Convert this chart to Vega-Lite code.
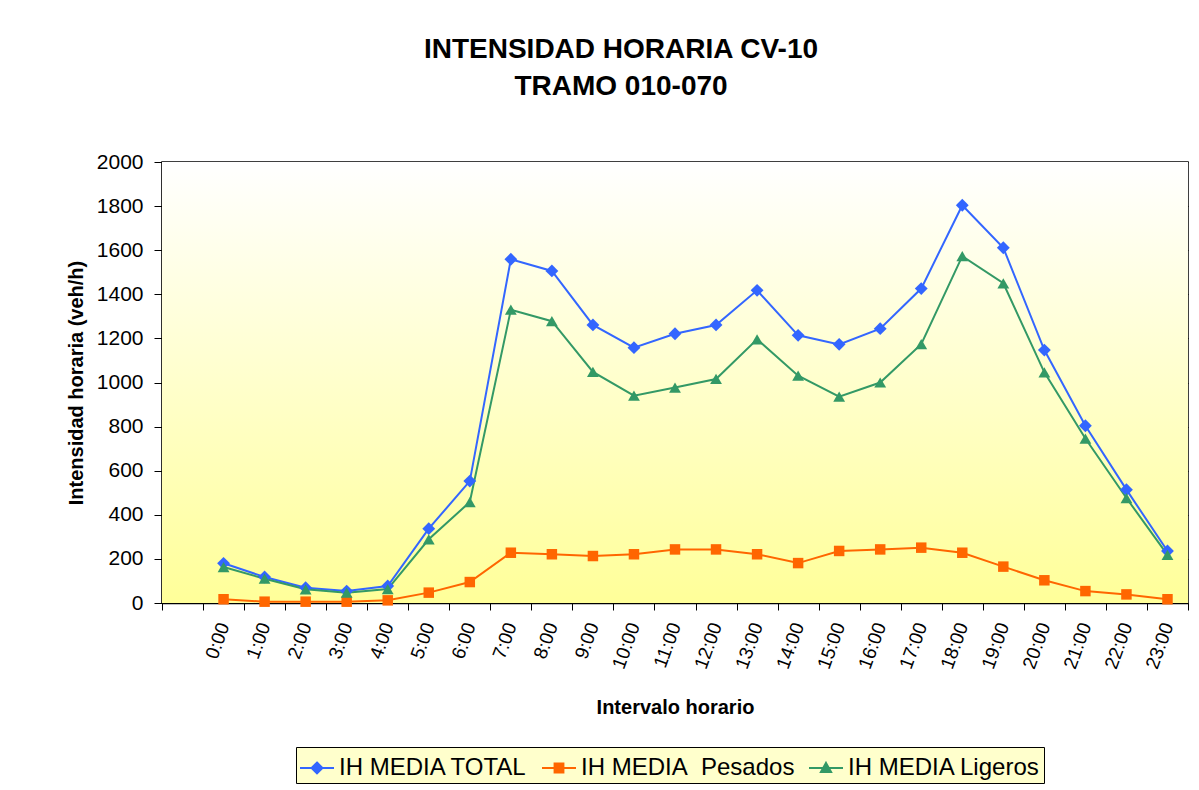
{
  "$schema": "https://vega.github.io/schema/vega-lite/v6.json",
  "autosize": {"type": "none"},
  "width": 1026,
  "height": 441,
  "padding": {"left": 162, "top": 162, "right": 11, "bottom": 187},
  "background": "#ffffff",
  "title": {
    "text": ["INTENSIDAD HORARIA CV-10", "TRAMO 010-070"],
    "font": "Liberation Sans",
    "fontSize": 28,
    "fontWeight": "bold",
    "color": "#000000",
    "anchor": "middle",
    "frame": "group",
    "dx": -54,
    "offset": 50,
    "lineHeight": 37
  },
  "config": {
    "view": {"stroke": "#000000", "strokeWidth": 1.5},
    "axis": {
      "labelFont": "Liberation Sans",
      "titleFont": "Liberation Sans",
      "labelColor": "#000000",
      "titleColor": "#000000",
      "domainColor": "#000000",
      "tickColor": "#000000",
      "gridColor": "#000000",
      "gridOpacity": 1,
      "gridWidth": 1,
      "domainWidth": 1.5
    },
    "legend": {"labelFont": "Liberation Sans"}
  },
  "data": {
    "values": [
      {"hora": "0:00", "serie": "IH MEDIA TOTAL", "valor": 180},
      {"hora": "1:00", "serie": "IH MEDIA TOTAL", "valor": 118},
      {"hora": "2:00", "serie": "IH MEDIA TOTAL", "valor": 69},
      {"hora": "3:00", "serie": "IH MEDIA TOTAL", "valor": 54},
      {"hora": "4:00", "serie": "IH MEDIA TOTAL", "valor": 77},
      {"hora": "5:00", "serie": "IH MEDIA TOTAL", "valor": 337},
      {"hora": "6:00", "serie": "IH MEDIA TOTAL", "valor": 553},
      {"hora": "7:00", "serie": "IH MEDIA TOTAL", "valor": 1559},
      {"hora": "8:00", "serie": "IH MEDIA TOTAL", "valor": 1506},
      {"hora": "9:00", "serie": "IH MEDIA TOTAL", "valor": 1261},
      {"hora": "10:00", "serie": "IH MEDIA TOTAL", "valor": 1158},
      {"hora": "11:00", "serie": "IH MEDIA TOTAL", "valor": 1221},
      {"hora": "12:00", "serie": "IH MEDIA TOTAL", "valor": 1261},
      {"hora": "13:00", "serie": "IH MEDIA TOTAL", "valor": 1418},
      {"hora": "14:00", "serie": "IH MEDIA TOTAL", "valor": 1214},
      {"hora": "15:00", "serie": "IH MEDIA TOTAL", "valor": 1173},
      {"hora": "16:00", "serie": "IH MEDIA TOTAL", "valor": 1244},
      {"hora": "17:00", "serie": "IH MEDIA TOTAL", "valor": 1426},
      {"hora": "18:00", "serie": "IH MEDIA TOTAL", "valor": 1804},
      {"hora": "19:00", "serie": "IH MEDIA TOTAL", "valor": 1611},
      {"hora": "20:00", "serie": "IH MEDIA TOTAL", "valor": 1147},
      {"hora": "21:00", "serie": "IH MEDIA TOTAL", "valor": 804},
      {"hora": "22:00", "serie": "IH MEDIA TOTAL", "valor": 514},
      {"hora": "23:00", "serie": "IH MEDIA TOTAL", "valor": 236},
      {"hora": "0:00", "serie": "IH MEDIA Pesados", "valor": 17},
      {"hora": "1:00", "serie": "IH MEDIA Pesados", "valor": 6},
      {"hora": "2:00", "serie": "IH MEDIA Pesados", "valor": 6},
      {"hora": "3:00", "serie": "IH MEDIA Pesados", "valor": 6},
      {"hora": "4:00", "serie": "IH MEDIA Pesados", "valor": 12},
      {"hora": "5:00", "serie": "IH MEDIA Pesados", "valor": 47},
      {"hora": "6:00", "serie": "IH MEDIA Pesados", "valor": 95},
      {"hora": "7:00", "serie": "IH MEDIA Pesados", "valor": 228},
      {"hora": "8:00", "serie": "IH MEDIA Pesados", "valor": 221},
      {"hora": "9:00", "serie": "IH MEDIA Pesados", "valor": 213},
      {"hora": "10:00", "serie": "IH MEDIA Pesados", "valor": 221},
      {"hora": "11:00", "serie": "IH MEDIA Pesados", "valor": 243},
      {"hora": "12:00", "serie": "IH MEDIA Pesados", "valor": 243},
      {"hora": "13:00", "serie": "IH MEDIA Pesados", "valor": 221},
      {"hora": "14:00", "serie": "IH MEDIA Pesados", "valor": 181},
      {"hora": "15:00", "serie": "IH MEDIA Pesados", "valor": 236},
      {"hora": "16:00", "serie": "IH MEDIA Pesados", "valor": 243},
      {"hora": "17:00", "serie": "IH MEDIA Pesados", "valor": 251},
      {"hora": "18:00", "serie": "IH MEDIA Pesados", "valor": 228},
      {"hora": "19:00", "serie": "IH MEDIA Pesados", "valor": 165},
      {"hora": "20:00", "serie": "IH MEDIA Pesados", "valor": 103},
      {"hora": "21:00", "serie": "IH MEDIA Pesados", "valor": 54},
      {"hora": "22:00", "serie": "IH MEDIA Pesados", "valor": 39},
      {"hora": "23:00", "serie": "IH MEDIA Pesados", "valor": 17},
      {"hora": "0:00", "serie": "IH MEDIA Ligeros", "valor": 163},
      {"hora": "1:00", "serie": "IH MEDIA Ligeros", "valor": 110},
      {"hora": "2:00", "serie": "IH MEDIA Ligeros", "valor": 62},
      {"hora": "3:00", "serie": "IH MEDIA Ligeros", "valor": 47},
      {"hora": "4:00", "serie": "IH MEDIA Ligeros", "valor": 63},
      {"hora": "5:00", "serie": "IH MEDIA Ligeros", "valor": 289},
      {"hora": "6:00", "serie": "IH MEDIA Ligeros", "valor": 458},
      {"hora": "7:00", "serie": "IH MEDIA Ligeros", "valor": 1330},
      {"hora": "8:00", "serie": "IH MEDIA Ligeros", "valor": 1278},
      {"hora": "9:00", "serie": "IH MEDIA Ligeros", "valor": 1048},
      {"hora": "10:00", "serie": "IH MEDIA Ligeros", "valor": 940},
      {"hora": "11:00", "serie": "IH MEDIA Ligeros", "valor": 977},
      {"hora": "12:00", "serie": "IH MEDIA Ligeros", "valor": 1016},
      {"hora": "13:00", "serie": "IH MEDIA Ligeros", "valor": 1196},
      {"hora": "14:00", "serie": "IH MEDIA Ligeros", "valor": 1031},
      {"hora": "15:00", "serie": "IH MEDIA Ligeros", "valor": 936},
      {"hora": "16:00", "serie": "IH MEDIA Ligeros", "valor": 1000},
      {"hora": "17:00", "serie": "IH MEDIA Ligeros", "valor": 1174},
      {"hora": "18:00", "serie": "IH MEDIA Ligeros", "valor": 1573},
      {"hora": "19:00", "serie": "IH MEDIA Ligeros", "valor": 1450},
      {"hora": "20:00", "serie": "IH MEDIA Ligeros", "valor": 1046},
      {"hora": "21:00", "serie": "IH MEDIA Ligeros", "valor": 746},
      {"hora": "22:00", "serie": "IH MEDIA Ligeros", "valor": 476},
      {"hora": "23:00", "serie": "IH MEDIA Ligeros", "valor": 218}
    ]
  },
  "layer": [
    {
      "data": {"values": [{"banda": "fondo"}]},
      "mark": {
        "type": "rect",
        "color": {
          "gradient": "linear",
          "x1": 0, "y1": 0, "x2": 0, "y2": 1,
          "stops": [
            {"offset": 0, "color": "#FFFFFF"},
            {"offset": 1, "color": "#FFFF99"}
          ]
        }
      },
      "encoding": {
        "y": {"datum": 0, "type": "quantitative"},
        "y2": {"datum": 2000}
      }
    },
    {
      "mark": {"type": "line", "strokeWidth": 2},
      "encoding": {
        "x": {
          "field": "hora",
          "type": "ordinal",
          "scale": {
            "domain": [" ", "0:00", "1:00", "2:00", "3:00", "4:00", "5:00", "6:00", "7:00", "8:00", "9:00", "10:00", "11:00", "12:00", "13:00", "14:00", "15:00", "16:00", "17:00", "18:00", "19:00", "20:00", "21:00", "22:00", "23:00"],
            "type": "band",
            "paddingInner": 0,
            "paddingOuter": 0
          },
          "axis": {
            "title": "Intervalo horario",
            "titleFontSize": 20,
            "titleFontWeight": "bold",
            "titlePadding": 26,
            "labelFontSize": 19,
            "labelAngle": -70,
            "labelPadding": 13,
            "tickSize": 7,
            "tickBand": "extent",
            "grid": false
          }
        },
        "y": {
          "field": "valor",
          "type": "quantitative",
          "scale": {"domain": [0, 2000], "nice": false},
          "axis": {
            "title": "Intensidad horaria (veh/h)",
            "titleFontSize": 20,
            "titleFontWeight": "bold",
            "titlePadding": 10,
            "labelFontSize": 21,
            "labelPadding": 11,
            "tickSize": 8,
            "format": "d",
            "values": [0, 200, 400, 600, 800, 1000, 1200, 1400, 1600, 1800, 2000],
            "grid": true
          }
        },
        "color": {
          "field": "serie",
          "type": "nominal",
          "scale": {
            "domain": ["IH MEDIA TOTAL", "IH MEDIA Pesados", "IH MEDIA Ligeros"],
            "range": ["#3366FF", "#FF6600", "#339966"]
          },
          "legend": {
            "title": null,
            "orient": "none",
            "legendX": 134,
            "legendY": 585,
            "direction": "horizontal",
            "fillColor": "#FFFFCC",
            "strokeColor": "#000000",
            "padding": 3,
            "labelFontSize": 24,
            "labelLimit": 400,
            "labelColor": "#000000",
            "labelOffset": 4,
            "columnPadding": 10,
            "symbolSize": 1156,
            "symbolStrokeWidth": 2,
            "labelExpr": "replace(datum.label, 'MEDIA Pesados', 'MEDIA\u00a0 Pesados')",
            "encode": {
              "symbols": {
                "update": {
                  "shape": {"signal": "datum.value === 'IH MEDIA TOTAL' ? 'M-1,0H1M0,-0.32L0.32,0L0,0.32L-0.32,0Z' : datum.value === 'IH MEDIA Pesados' ? 'M-1,0H1M-0.26,-0.26H0.26V0.26H-0.26Z' : 'M-1,0H1M0,-0.3L0.3,0.24H-0.3Z'"},
                  "size": {"value": 1156},
                  "fill": {"scale": "color", "field": "value"},
                  "stroke": {"scale": "color", "field": "value"},
                  "strokeWidth": {"value": 2},
                  "opacity": {"value": 1},
                  "fillOpacity": {"value": 1}
                }
              }
            }
          }
        }
      }
    },
    {
      "mark": {"type": "point", "filled": true, "opacity": 1},
      "encoding": {
        "x": {"field": "hora", "type": "ordinal"},
        "y": {"field": "valor", "type": "quantitative"},
        "color": {"field": "serie", "type": "nominal"},
        "shape": {
          "condition": [
            {"test": "datum.serie === 'IH MEDIA TOTAL'", "value": "diamond"},
            {"test": "datum.serie === 'IH MEDIA Pesados'", "value": "square"}
          ],
          "value": "triangle-up"
        },
        "size": {
          "condition": [
            {"test": "datum.serie === 'IH MEDIA TOTAL'", "value": 165},
            {"test": "datum.serie === 'IH MEDIA Pesados'", "value": 110}
          ],
          "value": 140
        }
      }
    }
  ]
}
